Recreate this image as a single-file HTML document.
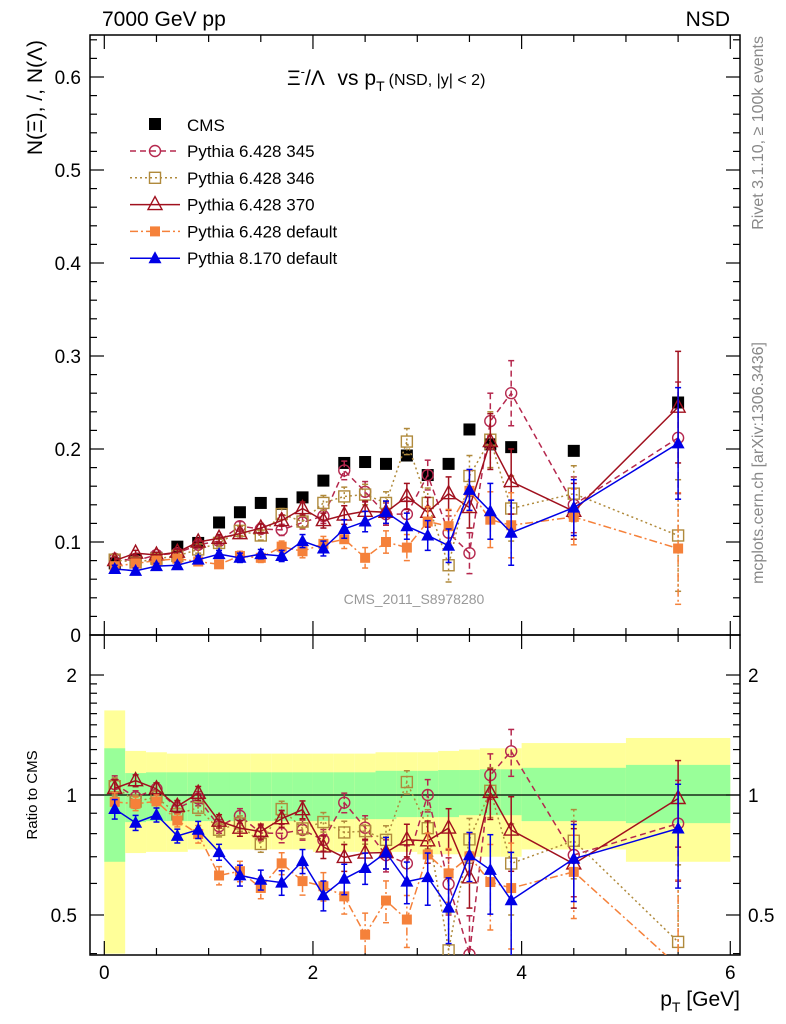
<!DOCTYPE html>
<html><head><meta charset="utf-8"><style>
html,body{margin:0;padding:0;background:#fff;width:786px;height:1024px;overflow:hidden}
svg{display:block;font-family:"Liberation Sans",sans-serif}
</style></head><body>
<svg id="c" width="786" height="1024" viewBox="0 0 786 1024"></svg>
<script>
const pt=[0.1,0.3,0.5,0.7,0.9,1.1,1.3,1.5,1.7,1.9,2.1,2.3,2.5,2.7,2.9,3.1,3.3,3.5,3.7,3.9,4.5,5.5];
const binLo=[0,0.2,0.4,0.6,0.8,1.0,1.2,1.4,1.6,1.8,2.0,2.2,2.4,2.6,2.8,3.0,3.2,3.4,3.6,3.8,4.0,5.0];
const binHi=[0.2,0.4,0.6,0.8,1.0,1.2,1.4,1.6,1.8,2.0,2.2,2.4,2.6,2.8,3.0,3.2,3.4,3.6,3.8,4.0,5.0,6.0];
const cms=[0.077,0.081,0.083,0.095,0.099,0.121,0.132,0.142,0.141,0.148,0.166,0.185,0.186,0.184,0.193,0.172,0.184,0.221,0.205,0.202,0.198,0.250];
const p345=[0.082,0.080,0.086,0.088,0.097,0.101,0.117,0.114,0.113,0.121,0.128,0.177,0.154,0.130,0.130,0.172,0.110,0.088,0.230,0.260,0.140,0.212];
const p346=[0.081,0.078,0.082,0.085,0.092,0.099,0.112,0.107,0.130,0.122,0.142,0.149,0.151,0.142,0.208,0.142,0.075,0.171,0.210,0.136,0.152,0.107];
const p370=[0.080,0.088,0.086,0.089,0.100,0.104,0.109,0.115,0.123,0.136,0.123,0.129,0.133,0.132,0.149,0.132,0.152,0.137,0.208,0.165,0.133,0.245];
const pdef=[0.074,0.077,0.080,0.082,0.079,0.076,0.085,0.083,0.095,0.090,0.098,0.103,0.083,0.100,0.094,0.122,0.117,0.155,0.124,0.118,0.127,0.093];
const p8=[0.071,0.069,0.074,0.075,0.081,0.087,0.083,0.087,0.085,0.101,0.093,0.114,0.122,0.132,0.117,0.107,0.096,0.156,0.133,0.110,0.137,0.206];
const mcErr=[0.004,0.003,0.003,0.003,0.004,0.004,0.005,0.005,0.006,0.007,0.008,0.010,0.011,0.012,0.014,0.016,0.018,0.022,0.030,0.035,0.030,0.060];
const yelHi=[1.63,1.29,1.28,1.27,1.27,1.27,1.27,1.27,1.27,1.27,1.27,1.27,1.27,1.28,1.28,1.28,1.29,1.30,1.31,1.31,1.35,1.39];
const yelLo=[0.40,0.715,0.72,0.72,0.73,0.73,0.73,0.73,0.73,0.73,0.72,0.72,0.72,0.72,0.72,0.71,0.71,0.70,0.70,0.70,0.73,0.68];
const grnHi=[1.31,1.135,1.14,1.14,1.14,1.14,1.14,1.14,1.14,1.14,1.14,1.14,1.14,1.15,1.15,1.15,1.155,1.155,1.16,1.16,1.17,1.19];
const grnLo=[0.68,0.855,0.86,0.86,0.86,0.86,0.86,0.86,0.86,0.86,0.86,0.87,0.87,0.87,0.88,0.88,0.88,0.89,0.89,0.89,0.86,0.85];
const xTickLabels=["0","2","4","6"];
const yTickLabels=["0","0.1","0.2","0.3","0.4","0.5","0.6"];

const NS="http://www.w3.org/2000/svg", svg=document.getElementById('c');
const L=90,R=740,T=35,M=635,B=955;
const X=v=>104.3+v*104.33;
const Y=v=>635-v*930;
const RY=r=>795-398.6*Math.log10(r);
function el(t,a,p){const e=document.createElementNS(NS,t);for(const k in a)e.setAttribute(k,a[k]);(p||svg).appendChild(e);return e;}
function txt(s,a,p){const e=el('text',a,p);e.textContent=s;return e;}

const defs=el('defs',{});
const c1=el('clipPath',{id:'cm'},defs);el('rect',{x:L,y:T,width:R-L,height:M-T},c1);
const c2=el('clipPath',{id:'cr'},defs);el('rect',{x:L,y:M,width:R-L,height:B-M},c2);

const gB=el('g',{'clip-path':'url(#cr)'});

for(let i=0;i<pt.length;i++){
  const r1=el('rect',{x:X(binLo[i]),y:RY(yelHi[i]),width:X(binHi[i])-X(binLo[i]),height:RY(yelLo[i])-RY(yelHi[i]),fill:'#ffff99'},gB);
  
  const r2=el('rect',{x:X(binLo[i]),y:RY(grnHi[i]),width:X(binHi[i])-X(binLo[i]),height:RY(grnLo[i])-RY(grnHi[i]),fill:'#99ff99'},gB);
  
}
el('line',{x1:L,x2:R,y1:RY(1),y2:RY(1),stroke:'#000','stroke-width':1.2});

el('rect',{x:L,y:T,width:R-L,height:M-T,fill:'none',stroke:'#000','stroke-width':1.5});
el('rect',{x:L,y:M,width:R-L,height:B-M,fill:'none',stroke:'#000','stroke-width':1.5});

for(let v=0;v<=6.001;v+=0.5){
  const maj=Math.abs(v-Math.round(v/2)*2)<1e-6, len=maj?14:7, x=X(v);
  [[T,1],[M,-1],[M,1],[B,-1]].forEach(([y0,d])=>el('line',{x1:x,x2:x,y1:y0,y2:y0+d*len,stroke:'#000','stroke-width':1.2}));
}
xTickLabels.forEach((s,i)=>{const t=txt(s,{x:X(i*2),y:979,'font-size':19,'text-anchor':'middle'});});
for(let k=0;k<=32;k++){const v=k*0.02,y=Y(v);if(y<T)break;const maj=k%5==0,len=maj?14:7;
  el('line',{x1:L,x2:L+len,y1:y,y2:y,stroke:'#000','stroke-width':1.2});el('line',{x1:R,x2:R-len,y1:y,y2:y,stroke:'#000','stroke-width':1.2});}
yTickLabels.forEach((s,i)=>{const t=txt(s,{x:81,y:Y(i*0.1)+7,'font-size':19,'text-anchor':'end'});});
[0.4,0.5,0.6,0.7,0.8,0.9,1,2].forEach(v=>{const y=RY(v),maj=(v==0.5||v==1||v==2),len=maj?14:7;
  el('line',{x1:L,x2:L+len,y1:y,y2:y,stroke:'#000','stroke-width':1.2});el('line',{x1:R,x2:R-len,y1:y,y2:y,stroke:'#000','stroke-width':1.2});});
for(let v=1.1;v<2;v+=0.1){const y=RY(v);el('line',{x1:L,x2:L+7,y1:y,y2:y,stroke:'#000','stroke-width':1.2});el('line',{x1:R,x2:R-7,y1:y,y2:y,stroke:'#000','stroke-width':1.2});}
[['2',2],['1',1],['0.5',0.5]].forEach(([s,v])=>{txt(s,{x:77,y:RY(v)+7,'font-size':19,'text-anchor':'end'});txt(s,{x:748,y:RY(v)+7,'font-size':19});});

function marker(g,type,x,y,col){
  if(type=='sqf')el('rect',{x:x-5,y:y-5,width:10,height:10,fill:col},g);
  else if(type=='sqo')el('rect',{x:x-5.5,y:y-5.5,width:11,height:11,fill:'none',stroke:col,'stroke-width':1.4},g);
  else if(type=='cir')el('circle',{cx:x,cy:y,r:5.5,fill:'none',stroke:col,'stroke-width':1.4},g);
  else if(type=='tro')el('path',{d:`M${x},${y-8}L${x+7},${y+5}L${x-7},${y+5}Z`,fill:'none',stroke:col,'stroke-width':1.4},g);
  else if(type=='trf')el('path',{d:`M${x},${y-7}L${x+6.5},${y+5}L${x-6.5},${y+5}Z`,fill:col},g);
  else if(type=='cms')el('rect',{x:x-6,y:y-6,width:12,height:12,fill:'#000'},g);
}
const series=[
 {name:'pythia-6428-345',vals:p345,col:'#b5284e',dash:'6,4',m:'cir',label:'Pythia 6.428 345'},
 {name:'pythia-6428-346',vals:p346,col:'#b08a3c',dash:'2,3',m:'sqo',label:'Pythia 6.428 346'},
 {name:'pythia-6428-370',vals:p370,col:'#a0101e',dash:'',m:'tro',label:'Pythia 6.428 370'},
 {name:'pythia-6428-default',vals:pdef,col:'#f5813a',dash:'8,3,2,3',m:'sqf',label:'Pythia 6.428 default'},
 {name:'pythia-8170-default',vals:p8,col:'#0000e6',dash:'',m:'trf',label:'Pythia 8.170 default'}];
function drawSeries(s,ratio){
  const g=el('g',{'clip-path':ratio?'url(#cr)':'url(#cm)'});
  
  
  const fy=ratio?(i,v)=>RY(v/cms[i]):(i,v)=>Y(v);
  const pts=s.vals.map((v,i)=>[X(pt[i]),fy(i,v)]);
  el('polyline',{points:pts.map(p=>p.join(',')).join(' '),fill:'none',stroke:s.col,'stroke-width':1.5,'stroke-dasharray':s.dash},g);
  s.vals.forEach((v,i)=>{const x=pts[i][0],y1=fy(i,v+mcErr[i]),y2=fy(i,Math.max(v-mcErr[i],0.001));
    el('line',{x1:x,x2:x,y1:y1,y2:y2,stroke:s.col,'stroke-width':1.5,'stroke-dasharray':s.dash},g);
    el('line',{x1:x-3,x2:x+3,y1:y1,y2:y1,stroke:s.col,'stroke-width':1.5},g);
    el('line',{x1:x-3,x2:x+3,y1:y2,y2:y2,stroke:s.col,'stroke-width':1.5},g);
    marker(g,s.m,x,pts[i][1],s.col);});
}
const gc=el('g',{'clip-path':'url(#cm)'});

cms.forEach((v,i)=>marker(gc,'cms',X(pt[i]),Y(v)));
series.forEach(s=>{drawSeries(s,false);drawSeries(s,true);});

const lg=el('g',{});
marker(lg,'cms',155,124);txt('CMS',{x:187,y:131,'font-size':17},lg);
series.forEach((s,i)=>{const y=151+i*26.8;
  el('line',{x1:130,x2:180,y1:y,y2:y,stroke:s.col,'stroke-width':1.5,'stroke-dasharray':s.dash},lg);
  marker(lg,s.m,155,y,s.col);txt(s.label,{x:187,y:y+6,'font-size':17},lg);});

txt('7000 GeV pp',{x:102,y:26,'font-size':21});
txt('NSD',{x:730,y:26,'font-size':21,'text-anchor':'end'});
const tt=txt('',{x:287,y:85,'font-size':21});
tt.innerHTML='Ξ<tspan font-size="13" dy="-9">-</tspan><tspan dy="9">/Λ  </tspan><tspan dx="8">vs p</tspan><tspan font-size="14" dy="6">T</tspan><tspan font-size="16" dy="-6" dx="4">(NSD, |y| &lt; 2)</tspan>';
const yl=txt('N(Ξ), /, N(Λ)',{x:0,y:0,'font-size':21,'text-anchor':'end',transform:'translate(42,40) rotate(-90)'});

txt('Ratio to CMS',{x:0,y:0,'font-size':15,'text-anchor':'middle',transform:'translate(37,795) rotate(-90)'});
const xl=txt('',{x:740,y:1006,'font-size':21,'text-anchor':'end'});
xl.innerHTML='p<tspan font-size="14" dy="6">T</tspan><tspan dy="-6"> [GeV]</tspan>';

txt('Rivet 3.1.10, ≥ 100k events',{x:0,y:0,'font-size':16,fill:'#888','text-anchor':'end',transform:'translate(763,36) rotate(-90)'});
txt('mcplots.cern.ch [arXiv:1306.3436]',{x:0,y:0,'font-size':16,fill:'#888','text-anchor':'end',transform:'translate(763,342) rotate(-90)'});
txt('CMS_2011_S8978280',{x:414,y:604,'font-size':14,fill:'#999','text-anchor':'middle'});
</script>
</body></html>
